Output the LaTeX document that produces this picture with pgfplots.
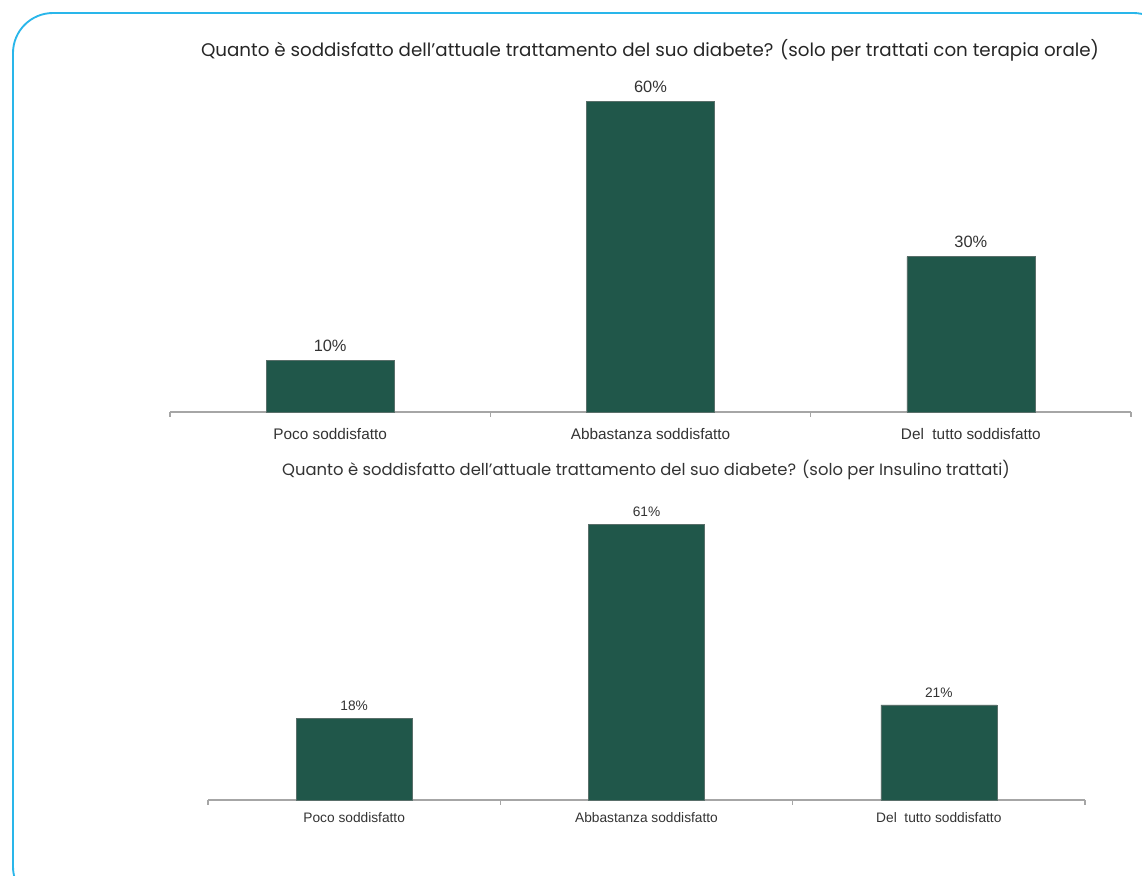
\documentclass[border=0pt]{standalone}
\usepackage{pgfplots}
\pgfplotsset{compat=1.18}
\usepackage{fontspec}
\setmainfont{Liberation Sans}
\newfontfamily\titlefont{Poppins}
\definecolor{barcol}{HTML}{20574A}
\definecolor{bordercol}{HTML}{29B6EA}
\definecolor{axcol}{HTML}{A6A6A6}
\definecolor{txtcol}{HTML}{333333}
\pgfplotsset{
  /pgf/number format/assume math mode=true,
  mybars/.style={
    scale only axis,
    ybar,
    axis y line=none,
    axis x line*=bottom,
    axis line style={axcol, line width=0.8pt},
    xmin=-0.5, xmax=2.5, ymin=0,
    xtick={0,1,2},
    xticklabels={Poco soddisfatto, Abbastanza soddisfatto, Del\ \ tutto soddisfatto},
    minor xtick={-0.5,0.5,1.5,2.5},
    tick align=outside,
    major tick length=0pt,
    minor tick length=3.5pt,
    minor tick style={axcol, line width=0.8pt},
    xticklabel style={text=txtcol},
    clip=false,
    nodes near coords={\pgfmathprintnumber{\pgfplotspointmeta}\%},
    every node near coord/.append style={text=txtcol},
  }
}
\begin{document}
\begin{tikzpicture}
\useasboundingbox (0,0) rectangle (856.5pt,-656.25pt);
\begin{scope}
\clip (0,0) rectangle (856.5pt,-656.25pt);
\draw[bordercol, line width=1.4pt, rounded corners=30pt] (9.75pt,-9.75pt) rectangle (880pt,-680pt);
\end{scope}
\node[font=\titlefont\fontsize{13.7}{16}\selectfont, text=black!85] at (487.5pt,-38pt)
  {Quanto è soddisfatto dell’attuale trattamento del suo diabete? (solo per trattati con terapia orale)};
\node[font=\titlefont\fontsize{12.3}{14}\selectfont, text=txtcol] at (484.5pt,-352.5pt)
  {Quanto è soddisfatto dell’attuale trattamento del suo diabete? (solo per Insulino trattati)};

\begin{axis}[mybars, at={(127.5pt,-309pt)}, anchor=south west,
  width=720.75pt, height=233.25pt, ymax=60, bar width=96pt,
  xticklabel style={font=\fontsize{11.5}{13}\selectfont, yshift=-9pt},
  every node near coord/.append style={font=\fontsize{12.3}{14}\selectfont, yshift=3pt}]
\addplot[fill=barcol, draw=gray!60!barcol, line width=0.5pt] coordinates {(0,10) (1,60) (2,30)};
\end{axis}

\begin{axis}[mybars, at={(156pt,-600pt)}, anchor=south west,
  width=657.75pt, height=207pt, ymax=61, bar width=87pt,
  xticklabel style={font=\fontsize{10.3}{12}\selectfont, yshift=-6pt},
  every node near coord/.append style={font=\fontsize{10.3}{12}\selectfont, yshift=2pt}]
\addplot[fill=barcol, draw=gray!60!barcol, line width=0.5pt] coordinates {(0,18) (1,61) (2,21)};
\end{axis}
\end{tikzpicture}
\end{document}
